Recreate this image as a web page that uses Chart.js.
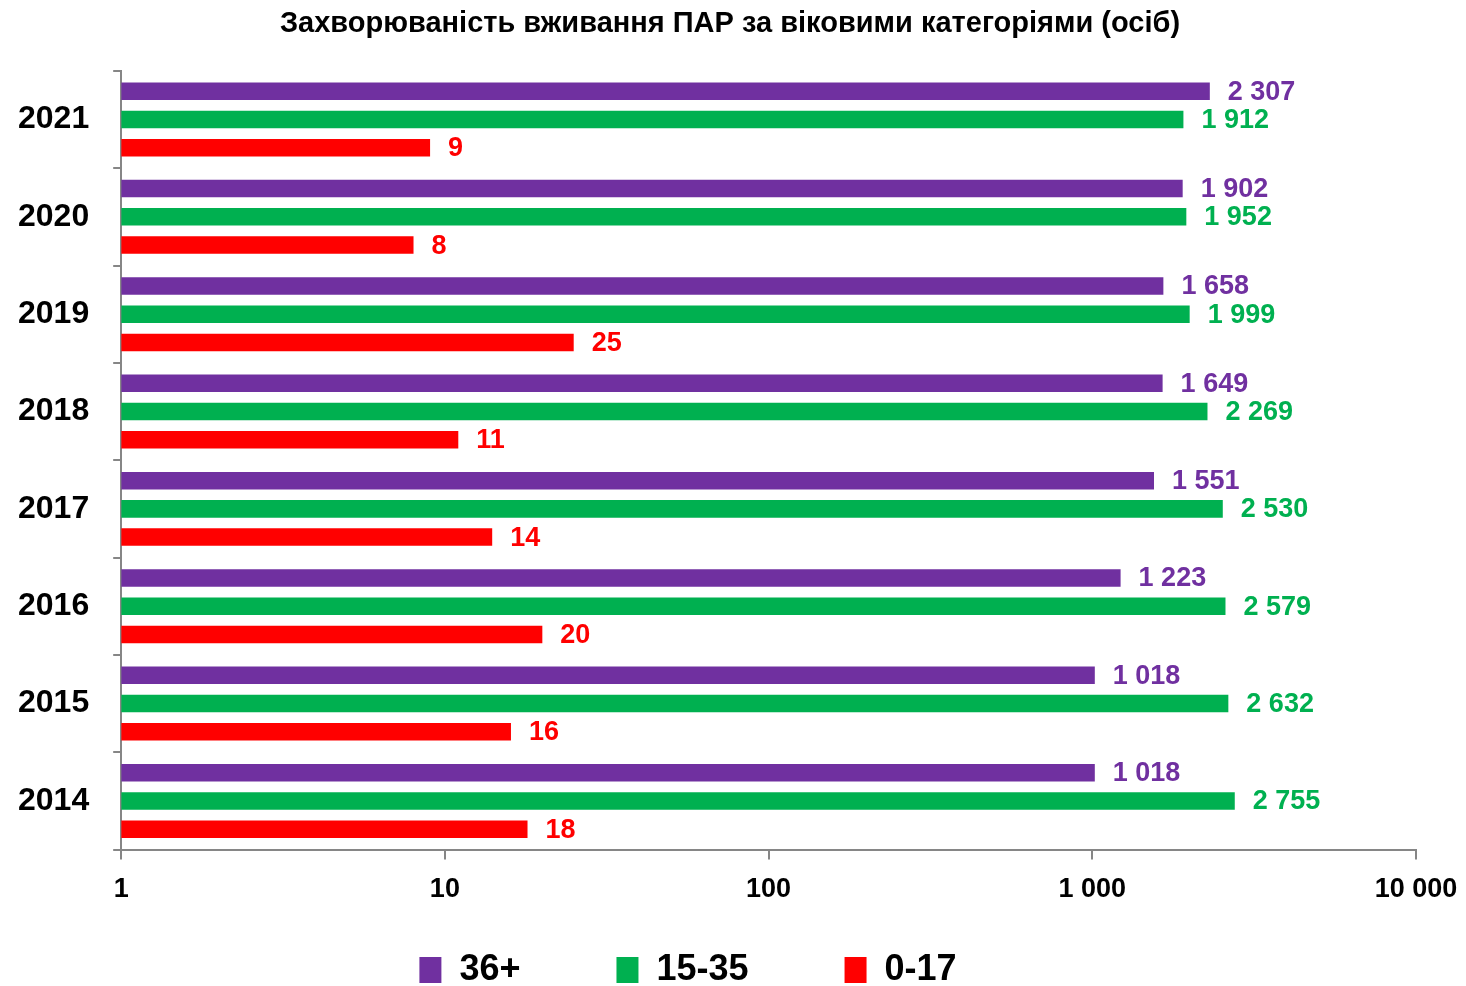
<!DOCTYPE html>
<html>
<head>
<meta charset="utf-8">
<script src="https://cdn.jsdelivr.net/npm/chart.js@4"></script>
<style>
  body { margin: 0; background: #fff; }
  #wrap { width: 1466px; height: 986px; }
</style>
</head>
<body>
<div id="wrap"><canvas id="par-chart" width="1466" height="986"></canvas></div>
<script>
const years = ['2021', '2020', '2019', '2018', '2017', '2016', '2015', '2014'];
const seriesNames = ['36+', '15-35', '0-17'];
const adults = [2307, 1902, 1658, 1649, 1551, 1223, 1018, 1018];
const youth = [1912, 1952, 1999, 2269, 2530, 2579, 2632, 2755];
const children = [9, 8, 25, 11, 14, 20, 16, 18];
const tickValues = [1, 10, 100, 1000, 10000];
const seriesColors = ['#7030A0', '#00B050', '#FF0000'];

const fontFamily = '"Liberation Sans Narrow", "Arial Narrow", "Liberation Sans", Arial, sans-serif';

function formatNum(v) {
    return v.toString().replace(/\B(?=(\d{3})+(?!\d))/g, ' ');
}

// simple data labels at bar ends
const barLabels = {
    id: 'barLabels',
    afterDatasetsDraw(chart) {
        const ctx = chart.ctx;
        ctx.save();
        ctx.font = 'bold 27px ' + fontFamily;
        ctx.textBaseline = 'middle';
        ctx.textAlign = 'left';
        chart.data.datasets.forEach((ds, i) => {
            const meta = chart.getDatasetMeta(i);
            ctx.fillStyle = ds.backgroundColor;
            meta.data.forEach((bar, j) => {
                ctx.fillText(formatNum(ds.data[j]), bar.x + 18, bar.y + 1);
            });
        });
        ctx.restore();
    }
};

// legend items are spread wide (big padding), so grow the legend box upwards
// after layout instead of letting it eat the plot height
const legendShift = {
    id: 'legendShift',
    afterLayout(chart) {
        const lg = chart.legend;
        lg.top -= 64;
        lg.left -= 42;
        lg.right -= 42;
    }
};

const ctx = document.getElementById('par-chart').getContext('2d');
const parChart = new Chart(ctx, {
    type: 'bar',
    data: {
        labels: years,
        datasets: [adults, youth, children].map((vals, i) => ({
            label: seriesNames[i],
            data: vals,
            backgroundColor: seriesColors[i],
            borderWidth: 0,
            categoryPercentage: 0.87,
            barPercentage: 0.62
        }))
    },
    options: {
        indexAxis: 'y',
        responsive: false,
        animation: false,
        layout: {
            padding: { left: -6, right: 0, top: 0, bottom: 0 }
        },
        scales: {
            x: {
                type: 'logarithmic',
                min: 1,
                max: 10000,
                afterBuildTicks: axis => {
                    axis.ticks = tickValues.map(v => ({ value: v }));
                },
                afterFit: axis => {
                    axis.paddingRight = 50;
                },
                ticks: {
                    callback: v => formatNum(v),
                    color: '#000',
                    font: { family: fontFamily, size: 27, weight: 'bold' },
                    padding: 14,
                    maxRotation: 0
                },
                grid: {
                    drawOnChartArea: false,
                    drawTicks: true,
                    tickLength: 10,
                    color: '#868686',
                    lineWidth: 2
                },
                border: { color: '#868686', width: 2 }
            },
            y: {
                ticks: {
                    color: '#000',
                    font: { family: fontFamily, size: 32, weight: 'bold' },
                    padding: 24
                },
                grid: {
                    offset: true,
                    drawOnChartArea: false,
                    drawTicks: true,
                    tickLength: 8,
                    color: '#868686',
                    lineWidth: 2
                },
                border: { color: '#868686', width: 2 }
            }
        },
        plugins: {
            title: {
                display: true,
                text: 'Захворюваність вживання ПАР за віковими категоріями (осіб)',
                color: '#000',
                font: { family: fontFamily, size: 29, weight: 'bold' },
                padding: { top: 7, bottom: 29 }
            },
            legend: {
                position: 'bottom',
                maxHeight: 66,
                labels: {
                    color: '#000',
                    font: { family: fontFamily, size: 36, weight: 'bold' },
                    boxWidth: 22,
                    boxHeight: 26,
                    padding: 96
                }
            },
            tooltip: { enabled: false }
        }
    },
    plugins: [barLabels, legendShift]
});
</script>
</body>
</html>
